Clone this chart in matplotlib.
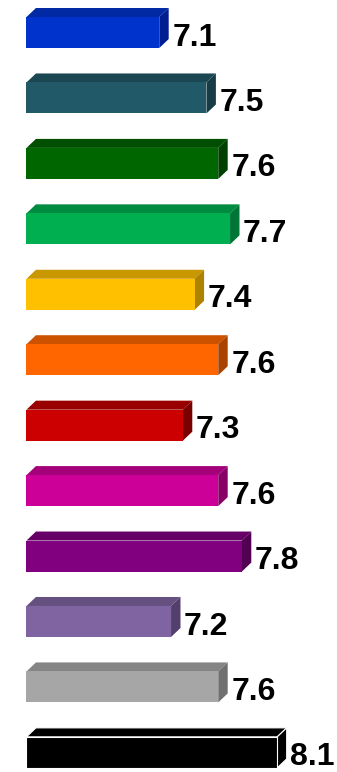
import numpy as np
import matplotlib.pyplot as plt
from matplotlib.patches import Polygon

values = [7.1, 7.5, 7.6, 7.7, 7.4, 7.6, 7.3, 7.6, 7.8, 7.2, 7.6, 8.1]
labels = ['7.1', '7.5', '7.6', '7.7', '7.4', '7.6', '7.3', '7.6', '7.8', '7.2', '7.6', '8.1']

# front, top, side shades for each bar
front = ['#0033CC', '#215968', '#006600', '#00B050', '#FFC000', '#FF6600',
         '#CC0000', '#CC0099', '#800080', '#8064A2', '#A6A6A6', '#000000']
top = ['#0029A3', '#1B4752', '#004F00', '#008C40', '#C99700', '#CC5200',
       '#990000', '#A3007A', '#660066', '#655080', '#858585', '#000000']
side = ['#001E8F', '#163C45', '#004000', '#007636', '#AD8200', '#A84300',
        '#7A0000', '#880066', '#520052', '#523F6B', '#707070', '#000000']

base = 5.975
dx = 0.08     # depth of the box along x
dy = 0.1375   # depth of the box along y
h = 0.474     # height of the front face

fig = plt.figure(figsize=(3.37, 7.72), dpi=100)
ax = fig.add_axes([0, 0, 1, 1])
ax.set_xlim(base - 26.5 / 118, base + (337 - 26.5) / 118)
ax.set_ylim(11.30, -0.497)
ax.axis('off')

y = np.arange(len(values))
ec = ['none'] * 11 + ['white']
ax.barh(y, np.array(values) - base, left=base, height=h, color=front,
        edgecolor=ec, linewidth=0.8, zorder=3)

for i, v in enumerate(values):
    t = i - h / 2
    b = i + h / 2
    lw = 0.8 if i == 11 else 0
    ax.add_patch(Polygon([(base, t), (base + dx, t - dy), (v + dx, t - dy), (v, t)],
                         closed=True, facecolor=top[i], edgecolor='white',
                         linewidth=lw, zorder=2))
    ax.add_patch(Polygon([(v, t), (v + dx, t - dy), (v + dx, b - dy), (v, b)],
                         closed=True, facecolor=side[i], edgecolor='white',
                         linewidth=lw, zorder=2))
    ax.text(v + dx + 0.03, i + 0.2, labels[i], fontsize=23, fontweight='bold',
            family='Liberation Sans', ha='left', va='baseline', color='black')

fig.savefig('out.png', dpi=100)
